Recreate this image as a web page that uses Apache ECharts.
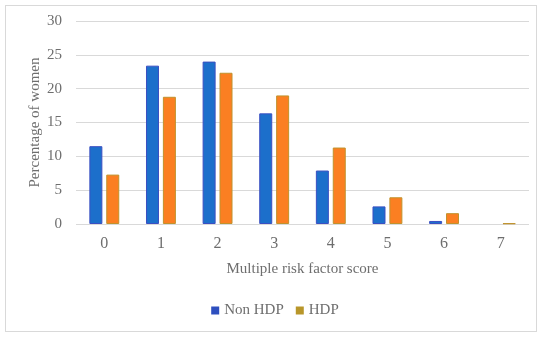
<!DOCTYPE html>
<html><head><meta charset="utf-8">
<script src="https://cdn.jsdelivr.net/npm/echarts@6/dist/echarts.min.js"></script>
<style>html,body{margin:0;padding:0;background:#fff}#c{width:550px;height:337px}
#frame{position:absolute;left:5px;top:5px;width:532px;height:327px;border:1px solid #d9d9d9;box-sizing:border-box;pointer-events:none}</style>
</head><body><div id="c"></div><div id="frame"></div>
<script>
const categories = ['0','1','2','3','4','5','6','7'];
const nonHDP = [11.5, 23.4, 24.0, 16.35, 7.9, 2.6, 0.45, 0];
const HDP = [7.3, 18.8, 22.35, 19.0, 11.3, 3.95, 1.6, 0.1];
const yTicks = [0, 5, 10, 15, 20, 25, 30];

const font = 'Liberation Serif';
const txt = '#6e6e6e';
const noZeroLine = arr => arr.map(v => v === 0 ? {value: v, itemStyle: {borderWidth: 0}} : v);
const chart = echarts.init(document.getElementById('c'));
chart.setOption({
  animation: false,
  grid: {left: 76, right: 21, top: 21, bottom: 113},
  legend: {
    bottom: 14, left: 'center', itemWidth: 8, itemHeight: 8, itemGap: 12,
    textStyle: {fontFamily: font, fontSize: 15, color: txt},
    data: [{name: 'Non HDP', itemStyle: {color: '#2e4fbf', borderWidth: 0}}, {name: 'HDP', itemStyle: {color: '#b8962a', borderWidth: 0}}],
    icon: 'rect'
  },
  xAxis: {
    type: 'category', data: categories,
    name: 'Multiple risk factor score', nameLocation: 'middle', nameGap: 38,
    nameTextStyle: {fontFamily: font, fontSize: 15, color: txt},
    axisLine: {show: false}, axisTick: {show: false},
    axisLabel: {fontFamily: font, fontSize: 16, color: txt, margin: 12}
  },
  yAxis: {
    type: 'value', min: 0, max: 30, interval: 5,
    name: 'Percentage of women', nameLocation: 'middle', nameGap: 33,
    nameMoveOverlap: false,
    nameTextStyle: {fontFamily: font, fontSize: 15, color: txt},
    axisLabel: {fontFamily: font, fontSize: 15, color: txt, margin: 14,
      formatter: v => yTicks.includes(v) ? String(v) : ''},
    splitLine: {lineStyle: {color: '#d9d9d9', width: 1}}
  },
  series: [
    {name: 'Non HDP', type: 'bar', data: noZeroLine(nonHDP), barWidth: 13, barGap: '30%',
     itemStyle: {color: '#1c6fcb', borderColor: '#3b4fc2', borderWidth: 1}},
    {name: 'HDP', type: 'bar', data: noZeroLine(HDP), barWidth: 13,
     itemStyle: {color: '#fb7f22', borderColor: '#c0922c', borderWidth: 1}}
  ]
});
</script></body></html>
